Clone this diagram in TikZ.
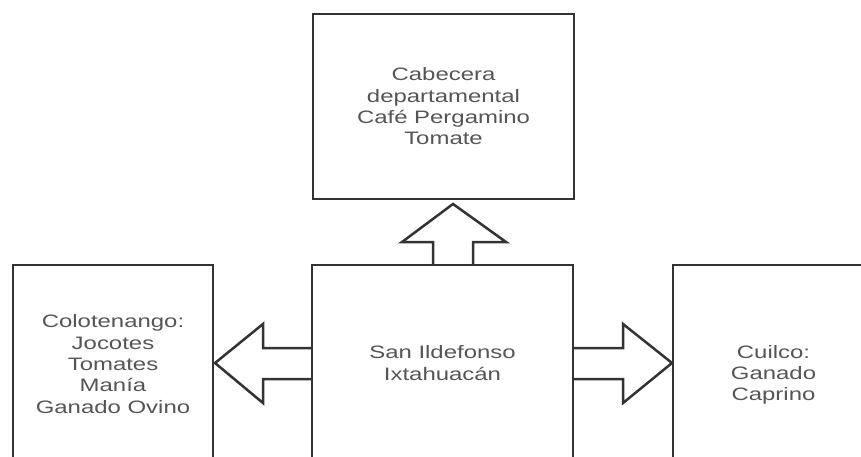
\documentclass[tikz,border=0pt]{standalone}
\usepackage{fontspec}
\setmainfont{Liberation Sans}[FakeStretch=1.33]
\usetikzlibrary{calc}
\definecolor{linec}{HTML}{333333}
\definecolor{textc}{HTML}{555555}
\begin{document}
\begin{tikzpicture}[x=1pt,y=-1pt,
  box/.style={draw=linec, line width=2.5pt, inner sep=0pt, outer sep=0pt},
  txt/.style={text=textc, align=center, font=\fontsize{18}{21.3}\selectfont, inner sep=0pt},
  blockarrow/.style={draw=linec, line width=2.5pt, fill=white, line join=miter}]
\useasboundingbox (0,0) rectangle (861,457);
\fill[white] (0,0) rectangle (861,457);
\clip (0,0) rectangle (861,457);
% box shapes (named, drawn last)
\path (443.5,106.5) node[inner sep=0pt, outer sep=0pt, minimum width=261pt, minimum height=185pt] (t) {};
\path (442.5,363) node[inner sep=0pt, outer sep=0pt, minimum width=261pt, minimum height=196pt] (c) {};
\path (113,363) node[inner sep=0pt, outer sep=0pt, minimum width=200pt, minimum height=196pt] (l) {};
\path (775.5,363) node[inner sep=0pt, outer sep=0pt, minimum width=205pt, minimum height=196pt] (r) {};
% up arrow (c -> t)
\draw[blockarrow] ($(c.north)+(-9.5,0)$) -- ($(c.north)+(-9.5,-23)$) -- ($(c.north)+(-40.5,-23)$)
  -- ($(t.south)+(9.5,5)$) -- ($(c.north)+(63.5,-23)$) -- ($(c.north)+(30.5,-23)$) -- ($(c.north)+(30.5,0)$);
% left arrow (c -> l)
\draw[blockarrow] ($(c.west)+(0,-15)$) -- ($(c.west)+(-49,-15)$) -- ($(c.west)+(-49,-39)$)
  -- ($(l.east)+(2,0)$) -- ($(c.west)+(-49,40)$) -- ($(c.west)+(-49,16)$) -- ($(c.west)+(0,16)$);
% right arrow (c -> r)
\draw[blockarrow] ($(c.east)+(0,-15)$) -- ($(c.east)+(50,-15)$) -- ($(c.east)+(50,-39)$)
  -- ($(r.west)+(-1,0)$) -- ($(c.east)+(50,40)$) -- ($(c.east)+(50,16)$) -- ($(c.east)+(0,16)$);
% box outlines
\draw[box] (t.south west) rectangle (t.north east);
\draw[box] (c.south west) rectangle (c.north east);
\draw[box] (l.south west) rectangle (l.north east);
\draw[box] (r.south west) rectangle (r.north east);
% texts
\node[txt] (tt) at (t.center) {Cabecera\\departamental\\Café Pergamino\\Tomate};
\node[txt] (ct) at (c.center) {San Ildefonso\\Ixtahuacán};
\node[txt] (lt) at ($(l.center)+(0,1)$) {Colotenango:\\Jocotes\\Tomates\\Manía\\Ganado Ovino};
\node[txt] (rt) at ($(r.center)+(-2,12)$) {Cuilco:\\Ganado\\Caprino};
\end{tikzpicture}
\end{document}
